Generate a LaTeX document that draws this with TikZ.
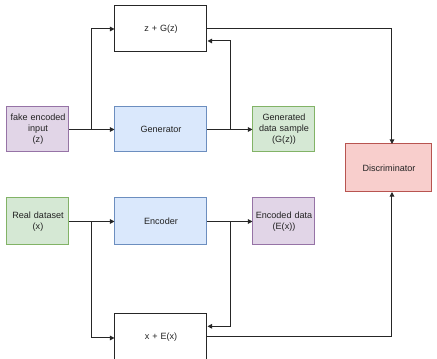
\documentclass[tikz,border=0pt]{standalone}
\usepackage{fontspec}
\setmainfont{Liberation Sans}
\usetikzlibrary{arrows.meta,calc}
\definecolor{purF}{HTML}{E1D5E7}\definecolor{purD}{HTML}{9673A6}
\definecolor{bluF}{HTML}{DAE8FC}\definecolor{bluD}{HTML}{6C8EBF}
\definecolor{grnF}{HTML}{D5E8D4}\definecolor{grnD}{HTML}{82B366}
\definecolor{redF}{HTML}{F8CECC}\definecolor{redD}{HTML}{B85450}
\definecolor{txt}{HTML}{222222}
\tikzset{
  box/.style={draw, line width=0.75pt, inner sep=0pt, text=txt,
    font=\fontsize{6.8pt}{8.2pt}\selectfont},
  wide/.style={minimum width=69pt, text width=69pt, align=center},
  narrow/.style={minimum width=46.5pt, text width=46.5pt, align=center},
  purbox/.style={box, narrow, fill=purF, draw=purD},
  blubox/.style={box, wide, fill=bluF, draw=bluD},
  grnbox/.style={box, narrow, fill=grnF, draw=grnD},
  redbox/.style={box, fill=redF, draw=redD, minimum width=64.5pt, text width=64.5pt, align=center},
  plainbox/.style={box, wide, fill=white, draw=black!85},
  conn/.style={draw=black!85, line width=0.75pt, -{Triangle[length=3.5pt,width=3.5pt]}}
}
\begin{document}
\begin{tikzpicture}[x=0.75pt,y=-0.75pt]
\clip (0,0) rectangle (437,359);
\fill[white] (0,0) rectangle (437,359);
% nodes
\node[plainbox, minimum height=34.5pt] (zg) at (161,29) {z + G(z)};
\node[purbox, minimum height=33.75pt] (fake) at (38,129.5) {fake encoded\\input\\(z)};
\node[blubox, minimum height=33.75pt] (gen) at (161,129.5) {Generator};
\node[grnbox, minimum height=33.75pt] (gds) at (284,129.5) {Generated\\data sample\\(G(z))};
\node[redbox, minimum height=36pt] (disc) at (389,168) {Discriminator};
\node[grnbox, minimum height=35.25pt] (real) at (38,221.5) {Real dataset\\(x)};
\node[blubox, minimum height=35.25pt] (enc) at (161,221.5) {Encoder};
\node[purbox, minimum height=35.25pt] (encd) at (284,221.5) {Encoded data\\(E(x))};
\node[plainbox, minimum height=34.5pt] (xe) at (161,337) {x + E(x)};
% junction coordinates
\coordinate (j1) at (92,129.5);
\coordinate (j2) at (231,129.5);
\coordinate (j3) at (92,221.5);
\coordinate (j4) at (231,221.5);
\coordinate (dt) at (392,144);
\coordinate (db) at (392,192);
% top half
\draw[conn] (fake.east) -- (gen.west);
\draw[conn] (j1) |- (zg.west);
\draw[conn] (gen.east) -- (gds.west);
\draw[conn] (j2) |- ([yshift=-9pt]zg.east);
\draw[conn] (zg.east) -| (dt);
% bottom half
\draw[conn] (real.east) -- (enc.west);
\draw[conn] (j3) |- ([yshift=-0.75pt]xe.west);
\draw[conn] (enc.east) -- (encd.west);
\draw[conn] (j4) |- ([yshift=8pt]xe.east);
\draw[conn] (xe.east) -| (db);
\end{tikzpicture}
\end{document}
